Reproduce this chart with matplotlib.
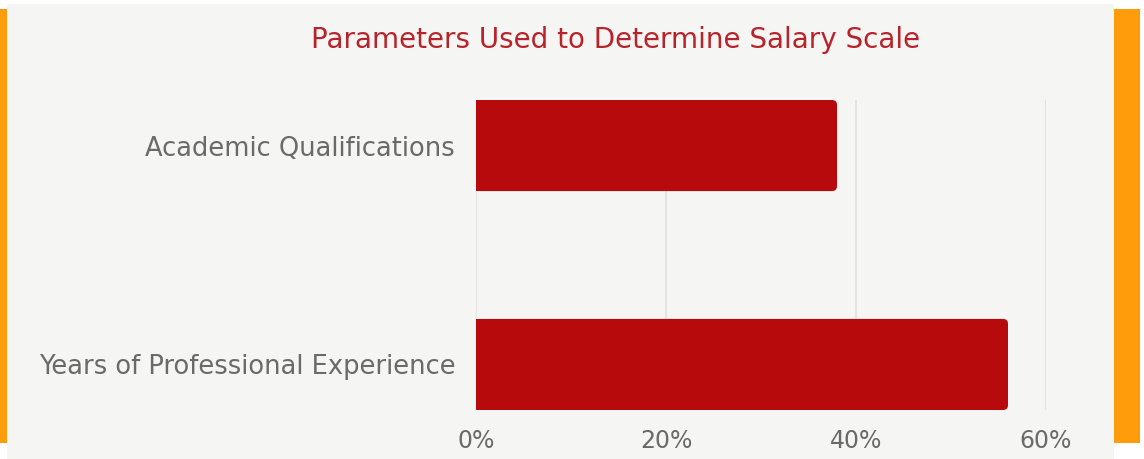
import matplotlib
matplotlib.use("Agg")
import matplotlib.pyplot as plt
from matplotlib.patches import Rectangle, FancyBboxPatch
import numpy as np

categories = ["Academic Qualifications", "Years of Professional Experience"]
values = [38, 56]
xticks = [0, 20, 40, 60]
xtick_labels = ["0%", "20%", "40%", "60%"]
title = "Parameters Used to Determine Salary Scale"

W, H = 1144, 459
fig = plt.figure(figsize=(W / 100, H / 100), dpi=100)
fig.patch.set_facecolor("white")

# decorative background: orange side strips + light panel
fig.patches.append(Rectangle((0, (H - 443) / H), 1140 / W, (443 - 9) / H,
                             transform=fig.transFigure, facecolor="#ff9c0b",
                             edgecolor="none", zorder=-3))
fig.patches.append(Rectangle((7 / W, 0), (1114 - 7) / W, (H - 4) / H,
                             transform=fig.transFigure, facecolor="#f5f5f3",
                             edgecolor="none", zorder=-2))

ax = fig.add_axes([476 / W, (H - 410) / H, (1046 - 476) / W, (410 - 100) / H])
ax.set_facecolor("none")

bar_h = 0.416
ypos = np.arange(len(categories))
bars = ax.barh(ypos, values, height=bar_h, color="#b60a0c", zorder=3)
ax.set_xlim(0, 60)
ax.set_ylim(len(categories) - 1 + bar_h / 2, -bar_h / 2)

# round the right-hand corners of each bar
x_per_px = 60 / (1046 - 476)
y_per_px = (len(categories) - 1 + bar_h) / (410 - 100)
r_px = 5
for b in bars:
    x0, y0 = b.get_x(), b.get_y()
    w, h = b.get_width(), b.get_height()
    b.set_visible(False)
    fb = FancyBboxPatch((x0, y0), w, h,
                        boxstyle=f"round,pad=0,rounding_size={r_px * x_per_px}",
                        mutation_aspect=y_per_px / x_per_px,
                        facecolor="#b60a0c", edgecolor="none", zorder=3)
    ax.add_patch(fb)
    ax.add_patch(Rectangle((x0, y0), w / 2, h, facecolor="#b60a0c",
                           edgecolor="none", zorder=3))

ax.set_xticks(xticks)
ax.set_xticklabels(xtick_labels)
ax.set_yticks(ypos)
ax.set_yticklabels(categories)
ax.grid(axis="x", color="#e4e4e2", linewidth=1.5, zorder=0)
ax.grid(axis="y", visible=False)
for s in ax.spines.values():
    s.set_visible(False)
ax.tick_params(axis="both", length=0, colors="#6a6a6a")
ax.tick_params(axis="y", pad=15, labelsize=18.5)
ax.tick_params(axis="x", pad=14, labelsize=17)
for lab in ax.get_xticklabels() + ax.get_yticklabels():
    lab.set_fontfamily("DejaVu Sans")
    lab.set_color("#6a6a6a")

fig.text(616 / W, (H - 40) / H, title, ha="center", va="center",
         fontsize=20, color="#b8232b", fontfamily="DejaVu Sans")

fig.savefig("out.png", dpi=100, facecolor=fig.get_facecolor())
